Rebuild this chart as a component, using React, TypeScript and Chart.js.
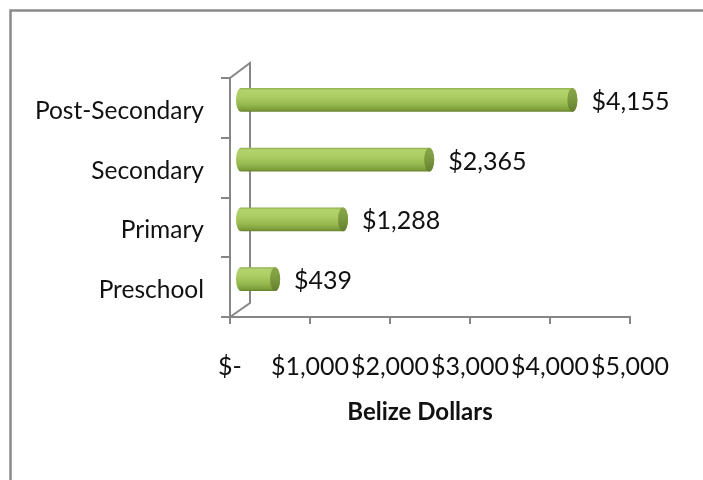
import React, { useEffect, useRef } from "react";
import { Chart, registerables } from "chart.js";

Chart.register(...registerables);

const categories: string[] = ["Post-Secondary", "Secondary", "Primary", "Preschool"];
const values: number[] = [4155, 2365, 1288, 439];
const xMin = 0;
const xMax = 5000;
const xStep = 1000;
const axisTitle = "Belize Dollars";

const FONT = "Lato";
const AXIS = "#868686";
const NUM_SIZE = 25;

const fmt = (v: number) => (v === 0 ? "$-" : "$" + v.toLocaleString("en-US"));

const framePlugin = {
  id: "frame",
  beforeDraw(chart: any) {
    const ctx = chart.ctx;
    ctx.save();
    ctx.strokeStyle = "#8a8a8a";
    ctx.lineWidth = 2.5;
    ctx.beginPath();
    ctx.moveTo(10.5, chart.height);
    ctx.lineTo(10.5, 10.5);
    ctx.lineTo(chart.width, 10.5);
    ctx.stroke();
    const { left, top, bottom } = chart.chartArea;
    ctx.strokeStyle = AXIS;
    ctx.lineWidth = 2;
    ctx.beginPath();
    ctx.moveTo(left, top);
    ctx.lineTo(left + 20, top - 15);
    ctx.lineTo(left + 20, bottom - 14);
    ctx.lineTo(left, bottom);
    ctx.stroke();
    ctx.beginPath();
    ctx.moveTo(left - 8, bottom);
    ctx.lineTo(left, bottom);
    ctx.stroke();
    ctx.restore();
  },
  afterDraw(chart: any) {
    const ctx = chart.ctx;
    const { left, right } = chart.chartArea;
    ctx.save();
    ctx.fillStyle = "#111";
    ctx.font = `bold 24px ${FONT}`;
    ctx.textAlign = "center";
    ctx.textBaseline = "middle";
    ctx.fillText(axisTitle, (left + right) / 2 - 10, 412);
    ctx.restore();
  },
};

const cylinderPlugin = {
  id: "cylinders",
  afterDatasetsDraw(chart: any) {
    const ctx = chart.ctx;
    const meta = chart.getDatasetMeta(0);
    const dx = 10;
    const dy = -8;
    const rx = 5;
    ctx.save();
    meta.data.forEach((el: any, i: number) => {
      const p = el.getProps(["x", "y", "base", "height"], true);
      const x0 = p.base + dx;
      const x1 = p.x + dx;
      const cy = p.y + dy;
      const h = p.height / 2;
      const g = ctx.createLinearGradient(0, cy - h, 0, cy + h);
      g.addColorStop(0, "#8fae4c");
      g.addColorStop(0.1, "#b3d36d");
      g.addColorStop(0.35, "#acce65");
      g.addColorStop(0.7, "#95b84f");
      g.addColorStop(0.9, "#7f9f3d");
      g.addColorStop(1, "#66822c");
      ctx.beginPath();
      ctx.moveTo(x0, cy - h);
      ctx.lineTo(x1, cy - h);
      ctx.ellipse(x1, cy, rx, h, 0, -Math.PI / 2, Math.PI / 2);
      ctx.lineTo(x0, cy + h);
      ctx.ellipse(x0, cy, rx, h, 0, Math.PI / 2, (3 * Math.PI) / 2);
      ctx.closePath();
      ctx.fillStyle = g;
      ctx.fill();
      const gc = ctx.createLinearGradient(0, cy - h, 0, cy + h);
      gc.addColorStop(0, "#8aa84a");
      gc.addColorStop(0.5, "#7a983e");
      gc.addColorStop(1, "#647f2e");
      ctx.beginPath();
      ctx.ellipse(x1, cy, rx, h, 0, 0, Math.PI * 2);
      ctx.fillStyle = gc;
      ctx.fill();
      ctx.fillStyle = "#111";
      ctx.font = `${NUM_SIZE}px ${FONT}`;
      ctx.textAlign = "left";
      ctx.textBaseline = "middle";
      ctx.fillText(fmt(values[i]), x1 + rx + 14, cy + 2);
    });
    ctx.restore();
  },
};

export default function App() {
  const ref = useRef<HTMLCanvasElement | null>(null);
  useEffect(() => {
    if (!ref.current) return;
    const chart = new Chart(ref.current, {
      type: "bar",
      data: {
        labels: categories,
        datasets: [
          {
            data: values,
            backgroundColor: "rgba(0,0,0,0)",
            borderWidth: 0,
            barPercentage: 0.8,
            categoryPercentage: 0.5,
          },
        ],
      },
      options: {
        indexAxis: "y",
        animation: false,
        responsive: false,
        events: [],
        layout: { padding: { top: 78, right: 73, left: 0, bottom: 0 } },
        plugins: { legend: { display: false }, tooltip: { enabled: false } },
        scales: {
          x: {
            type: "linear",
            min: xMin,
            max: xMax,
            ticks: {
              stepSize: xStep,
              callback: (v: any) => fmt(Number(v)),
              font: { family: FONT, size: NUM_SIZE },
              color: "#111",
              padding: 28,
              maxRotation: 0,
              autoSkip: false,
            },
            grid: { drawOnChartArea: false, drawTicks: true, tickLength: 7, color: AXIS, lineWidth: 2 },
            border: { display: true, color: AXIS, width: 2 },
            title: { display: false },
            afterFit: (s: any) => {
              s.height = 163;
            },
          },
          y: {
            type: "category",
            ticks: { font: { family: FONT, size: 24.5 }, color: "#111", padding: 17, labelOffset: 3 },
            grid: { drawOnChartArea: false, drawTicks: true, tickLength: 9, color: AXIS, lineWidth: 2, offset: true },
            border: { display: true, color: AXIS, width: 2 },
            afterFit: (s: any) => {
              s.width = 230;
            },
          },
        },
      },
      plugins: [framePlugin, cylinderPlugin],
    } as any);
    return () => chart.destroy();
  }, []);
  return (
    <div style={{ position: "absolute", left: 0, top: 0, width: 703, height: 480, background: "#fff" }}>
      <canvas ref={ref} width={703} height={480} style={{ display: "block" }} />
    </div>
  );
}
